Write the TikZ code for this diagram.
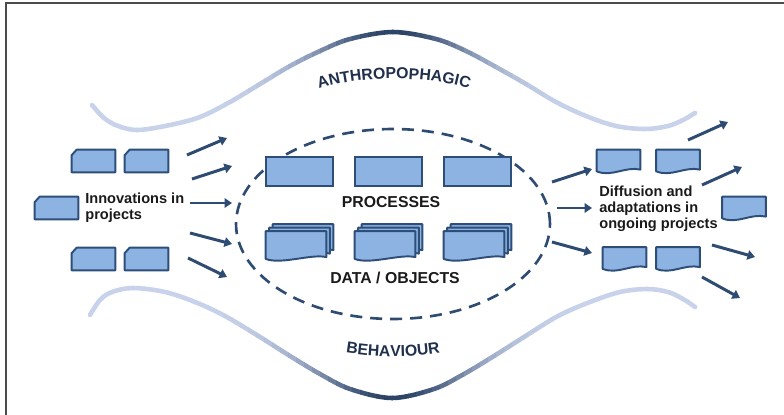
\documentclass[tikz,border=0pt]{standalone}
\usepackage{fontspec}
\setmainfont{Liberation Sans}
\usepackage{tikz}
\usetikzlibrary{arrows.meta,shapes.geometric,decorations.text}

\definecolor{boxfill}{HTML}{8DB3E2}
\definecolor{boxline}{HTML}{2C4E78}
\definecolor{arrowblue}{HTML}{2E4B72}
\definecolor{wavedark}{HTML}{2A4266}
\definecolor{wavelight}{HTML}{C8D3EB}
\definecolor{labeltext}{HTML}{1A1A1A}
\definecolor{wavetext}{HTML}{1F2F4C}

\tikzset{
  snipslot/.style={rectangle, minimum width=0.86cm, minimum height=0.44cm, inner sep=0pt},
  procbox/.style={rectangle, draw=boxline, fill=boxfill, line width=1.1pt,
    minimum width=1.34cm, minimum height=0.58cm, inner sep=0pt},
  docslot/.style={rectangle, minimum width=0.86cm, minimum height=0.42cm, inner sep=0pt},
  dataslot/.style={rectangle, minimum width=1.2cm, minimum height=0.54cm, inner sep=0pt},
  docdraw/.style={draw=boxline, fill=boxfill, line width=1.1pt, line join=round},
  flow/.style={draw=arrowblue, line width=1.7pt, -{Triangle[length=1.5mm,width=1.9mm]}},
  core/.style={ellipse, draw=arrowblue, line width=1.5pt, dash pattern=on 0.24cm off 0.16cm,
    minimum width=6.28cm, minimum height=3.8cm},
  wave/.style={line width=2.6pt, line cap=round},
  caption/.style={font=\fontsize{8.3}{9.2}\selectfont\bfseries, text=labeltext,
    align=left, anchor=west, inner sep=0pt},
  title/.style={font=\fontsize{9}{10}\selectfont\bfseries, text=labeltext, inner sep=0pt}
}

\newcommand\docpath[3]{([xshift=#2,yshift=#3]#1.north west) -- ([xshift=#2,yshift=#3]#1.north east)
  -- ([xshift=#2,yshift=#3+1pt]#1.south east)
  .. controls ([xshift=#2-0.3cm,yshift=#3+3pt]#1.south east) and ([xshift=#2+0.3cm,yshift=#3-3.5pt]#1.south west)
  .. ([xshift=#2,yshift=#3]#1.south west) -- cycle}
\newcommand\snippath[1]{([xshift=0.1cm]#1.north west) -- (#1.north east) -- (#1.south east)
  -- (#1.south west) -- ([yshift=-0.11cm]#1.north west) -- cycle}

\newcommand\topcurve{plot[smooth, tension=0.55] coordinates {(92,-105) (104,-118) (118,-126) (138,-130)
  (170,-125) (200,-117) (230,-102) (260,-84) (290,-66) (320,-51) (350,-39) (393,-32) (436,-39)
  (466,-51) (496,-67) (526,-84) (556,-102) (586,-116) (616,-126) (645,-129) (668,-126) (683,-120) (695,-113)}}
\newcommand\bottomcurve{plot[smooth, tension=0.55] coordinates {(90,-315) (100,-300) (112,-292) (133,-288)
  (165,-292) (195,-302) (225,-316) (260,-337) (290,-356) (320,-374) (350,-389) (392,-398) (434,-389)
  (464,-374) (494,-356) (524,-337) (558,-316) (590,-302) (620,-292) (647,-289) (668,-292) (683,-299) (695,-307)}}

\begin{document}
\begin{tikzpicture}[x=0.02cm, y=0.02cm]
	\useasboundingbox (0,0) rectangle (784,-415);
	\draw[line width=1.4pt, gray!60!black] (6,-415) -- (6,-3) -- (784,-3);
	
	\foreach \x in {80,88,...,704} {
		\pgfmathsetmacro\d{(\x+4-393)/85}
		\pgfmathtruncatemacro\t{100*exp(-(\d)*(\d))}
		\colorlet{wavecol}{wavedark!\t!wavelight}
		\begin{scope}
			\clip (\x,0) rectangle (\x+8.6,-415);
			\draw[wave, wavecol] \topcurve;
			\draw[wave, wavecol] \bottomcurve;
		\end{scope}
	}
	
	\path[decorate, decoration={text along path, text align=center,
		text={|\fontsize{9}{10}\selectfont\bfseries\color{wavetext}|ANTHROPOPHAGIC}}]
		(316,-90) .. controls (360,-75) and (428,-75) .. (472,-90);
	\path[decorate, decoration={text along path, text align=center,
		text={|\fontsize{9}{10}\selectfont\bfseries\color{wavetext}|BEHAVIOUR}}]
		(342,-352) .. controls (376,-358) and (410,-358) .. (444,-352);
	
	\node[core] (core) at (393,-224) {};
	
	\node[snipslot] (l1) at (93.5,-161) {};
	\node[snipslot] (l2) at (146.5,-161) {};
	\node[snipslot] (l3) at (56.5,-208) {};
	\node[snipslot] (l4) at (93.5,-259) {};
	\node[snipslot] (l5) at (146.5,-259) {};
	\foreach \n in {l1,l2,l3,l4,l5}
		\draw[docdraw] \snippath{\n};
	\node[caption] (innov) at (85,-208) {Innovations in\\projects};
	
	\node[procbox] (p1) at (299.5,-171.5) {};
	\node[procbox] (p2) at (388.5,-171.5) {};
	\node[procbox] (p3) at (477.5,-171.5) {};
	\node[title] (proc) at (391,-202) {PROCESSES};
	
	\node[dataslot] (d1) at (296,-245) {};
	\node[dataslot] (d2) at (385,-245) {};
	\node[dataslot] (d3) at (474,-245) {};
	\foreach \n in {d1,d2,d3} {
		\draw[docdraw] \docpath{\n}{0.14cm}{0.14cm};
		\draw[docdraw] \docpath{\n}{0.07cm}{0.07cm};
		\draw[docdraw] \docpath{\n}{0pt}{0pt};
	}
	\node[title] (data) at (395,-278) {DATA / OBJECTS};
	
	\node[docslot] (r1) at (618.5,-160.5) {};
	\node[docslot] (r2) at (678,-160.5) {};
	\node[docslot] (r3) at (744,-207.5) {};
	\node[docslot] (r4) at (624.5,-258) {};
	\node[docslot] (r5) at (678,-258) {};
	\foreach \n in {r1,r2,r3,r4,r5}
		\draw[docdraw] \docpath{\n}{0pt}{0pt};
	\node[caption] (diff) at (599,-209) {Diffusion and\\adaptations in\\ongoing projects};
	
	\foreach \i/\a/\b in {1/{187,-155}/{227,-138}, 2/{192,-179}/{232,-166}, 3/{190,-203}/{232,-203},
		4/{190,-233}/{232,-244}, 5/{188,-258}/{227,-277}, 6/{552,-182}/{592,-169},
		7/{557,-208}/{592,-208}, 8/{552,-242}/{592,-253}, 9/{688,-140}/{728,-122},
		10/{702,-185}/{742,-167}, 11/{712,-245}/{755,-257}, 12/{702,-277}/{740,-298}} {
		\coordinate (fs\i) at (\a);
		\coordinate (fe\i) at (\b);
		\path (fs\i) edge [flow] (fe\i);
	}
\end{tikzpicture}
\end{document}
